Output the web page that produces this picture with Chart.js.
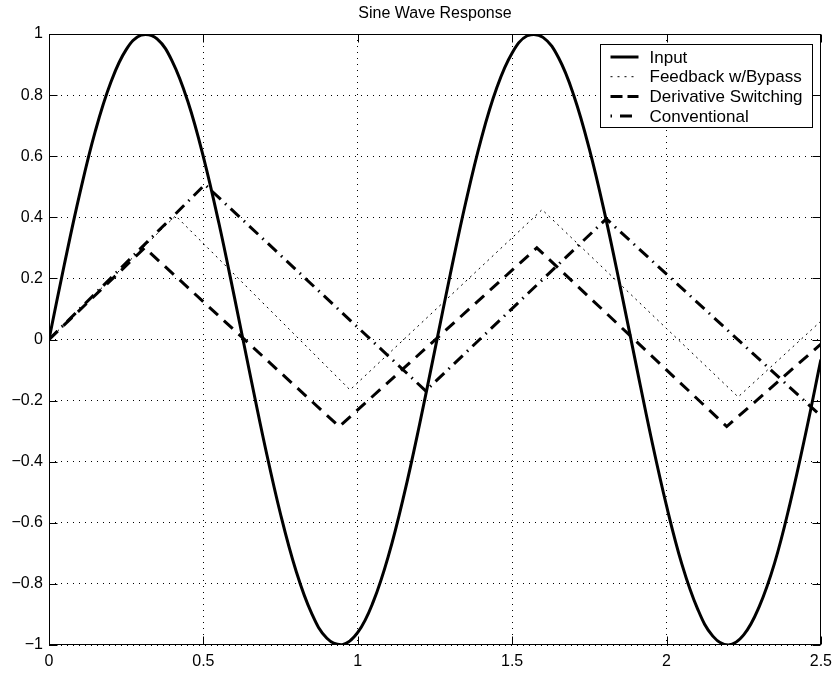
<!DOCTYPE html>
<html>
<head>
<meta charset="utf-8">
<script src="https://cdn.jsdelivr.net/npm/chart.js@4.4.1/dist/chart.umd.min.js"></script>
<style>
  html, body { margin: 0; padding: 0; background: #fff; }
</style>
</head>
<body>
<canvas id="myChart" width="839" height="675"></canvas>
<script>
const chartTitle = 'Sine Wave Response';
const seriesNames = ['Input', 'Feedback w/Bypass', 'Derivative Switching', 'Conventional'];

const inputT = [0, 0.05, 0.1, 0.15, 0.2, 0.25, 0.3, 0.35, 0.4, 0.45,
  0.5, 0.55, 0.6, 0.65, 0.7, 0.75, 0.8, 0.85, 0.9, 0.95,
  1, 1.05, 1.1, 1.15, 1.2, 1.25, 1.3, 1.35, 1.4, 1.45,
  1.5, 1.55, 1.6, 1.65, 1.7, 1.75, 1.8, 1.85, 1.9, 1.95,
  2, 2.05, 2.1, 2.15, 2.2, 2.25, 2.3, 2.35, 2.4, 2.45, 2.5];
const inputY = [0, 0.247, 0.479, 0.682, 0.841, 0.949, 0.997, 0.984, 0.909, 0.778,
  0.598, 0.382, 0.141, -0.108, -0.351, -0.572, -0.757, -0.895, -0.978, -0.999,
  -0.959, -0.859, -0.706, -0.508, -0.279, -0.033, 0.215, 0.450, 0.657, 0.823,
  0.938, 0.995, 0.989, 0.923, 0.798, 0.624, 0.412, 0.174, -0.075, -0.320,
  -0.544, -0.736, -0.880, -0.971, -1.000, -0.967, -0.875, -0.732, -0.537, -0.311, -0.066];

// the responses are straight segments, so only the corners are listed
const feedbackT = [0, 0.41, 0.975, 1.597, 2.232, 2.5];
const feedbackY = [0, 0.405, -0.165, 0.425, -0.188, 0.06];
const derivT = [0, 0.31, 0.94, 1.58, 2.195, 2.5];
const derivY = [0, 0.30, -0.285, 0.30, -0.285, -0.015];
const convT = [0, 0.505, 1.22, 1.805, 2.5];
const convY = [0, 0.507, -0.168, 0.395, -0.25];

const xTicks = [0, 0.5, 1, 1.5, 2, 2.5];
const yTicks = [-1, -0.8, -0.6, -0.4, -0.2, 0, 0.2, 0.4, 0.6, 0.8, 1];

const FONT = 'Liberation Sans, Arial, Helvetica, sans-serif';
Chart.defaults.font.family = FONT;
Chart.defaults.font.size = 16;
Chart.defaults.color = '#000';

function pts(t, y) {
  return t.map((v, i) => ({ x: v, y: y[i] }));
}

function fmt(v) {
  var s = String(Math.round(v * 10) / 10);
  return s.replace('-', '\u2212');
}

// matlab style box, inward ticks, title and legend
const matlabLook = {
  id: 'matlabLook',
  afterDraw(chart) {
    const ctx = chart.ctx;
    const a = chart.chartArea;
    const sx = chart.scales.x, sy = chart.scales.y;
    const L = Math.round(a.left) + 0.5, R = Math.round(a.right) - 0.5;
    const T = Math.round(a.top) + 0.5, B = Math.round(a.bottom) - 0.5;
    ctx.save();
    ctx.strokeStyle = '#000';
    ctx.lineWidth = 1;
    ctx.setLineDash([]);
    ctx.beginPath();
    xTicks.forEach(v => {
      const px = Math.round(sx.getPixelForValue(v)) + 0.5;
      ctx.moveTo(px, B); ctx.lineTo(px, B - 8);
      ctx.moveTo(px, T); ctx.lineTo(px, T + 8);
    });
    yTicks.forEach(v => {
      const py = Math.round(sy.getPixelForValue(v)) + 0.5;
      ctx.moveTo(L, py); ctx.lineTo(L + 8, py);
      ctx.moveTo(R, py); ctx.lineTo(R - 8, py);
    });
    ctx.stroke();
    ctx.strokeRect(L, T, R - L, B - T);

    // title
    ctx.fillStyle = '#000';
    ctx.font = '16px ' + FONT;
    ctx.textAlign = 'center';
    ctx.textBaseline = 'middle';
    ctx.fillText(chartTitle, (a.left + a.right) / 2, 14);

    // legend
    const w = 212, h = 83;
    const x0 = Math.round(a.right) - 9 - w + 0.5;
    const y0 = Math.round(a.top) + 10 + 0.5;
    ctx.fillStyle = '#fff';
    ctx.fillRect(x0, y0, w, h);
    ctx.strokeRect(x0, y0, w, h);
    ctx.font = '17px ' + FONT;
    chart.data.datasets.forEach((ds, i) => {
      const y = y0 + 12.5 + i * 19.7;
      ctx.strokeStyle = '#000';
      ctx.lineWidth = ds.borderWidth;
      ctx.lineCap = 'butt';
      ctx.setLineDash(ds.legendDash || []);
      ctx.beginPath();
      ctx.moveTo(x0 + 10, y);
      ctx.lineTo(x0 + 38, y);
      ctx.stroke();
      ctx.setLineDash([]);
      ctx.fillStyle = '#000';
      ctx.textAlign = 'left';
      ctx.textBaseline = 'middle';
      ctx.fillText(ds.label, x0 + 49, y + 1);
    });
    ctx.restore();
  }
};

var ctx = document.getElementById('myChart');
var chart = new Chart(ctx, {
  type: 'line',
  data: {
    datasets: [{
      label: seriesNames[0],
      data: pts(inputT, inputY),
      borderColor: '#000',
      borderWidth: 3,
      tension: 0.4,
      legendDash: []
    }, {
      label: seriesNames[1],
      data: pts(feedbackT, feedbackY),
      borderColor: '#000',
      borderWidth: 1,
      borderDash: [2, 4],
      legendDash: [2, 5],
      tension: 0
    }, {
      label: seriesNames[2],
      data: pts(derivT, derivY),
      borderColor: '#000',
      borderWidth: 3,
      borderDash: [12, 8],
      legendDash: [12, 5],
      tension: 0
    }, {
      label: seriesNames[3],
      data: pts(convT, convY),
      borderColor: '#000',
      borderWidth: 3,
      borderDash: [12, 6, 1.5, 6],
      legendDash: [1.5, 8, 12, 8],
      tension: 0
    }]
  },
  options: {
    responsive: false,
    animation: false,
    devicePixelRatio: 1,
    elements: { point: { radius: 0 }, line: { fill: false, borderCapStyle: 'butt', borderJoinStyle: 'miter' } },
    layout: { padding: { left: 0, right: 16, top: 34, bottom: 0 } },
    plugins: {
      legend: { display: false },
      title: { display: false },
      tooltip: { enabled: false }
    },
    scales: {
      x: {
        type: 'linear',
        min: 0, max: 2.5,
        afterBuildTicks: s => { s.ticks = xTicks.map(v => ({ value: v })); },
        afterFit: s => { s.height = 30; },
        ticks: { padding: 7, maxRotation: 0, callback: v => fmt(v), font: { size: 16 } },
        grid: { color: '#000', lineWidth: 1, drawTicks: false },
        border: { display: false, dash: [1, 5] }
      },
      y: {
        type: 'linear',
        min: -1, max: 1,
        afterBuildTicks: s => { s.ticks = yTicks.map(v => ({ value: v })); },
        afterFit: s => { s.width = 49; },
        ticks: { padding: 6, callback: v => fmt(v), font: { size: 16 } },
        grid: { color: '#000', lineWidth: 1, drawTicks: false },
        border: { display: false, dash: [1, 5] }
      }
    }
  },
  plugins: [matlabLook]
});
</script>
</body>
</html>
